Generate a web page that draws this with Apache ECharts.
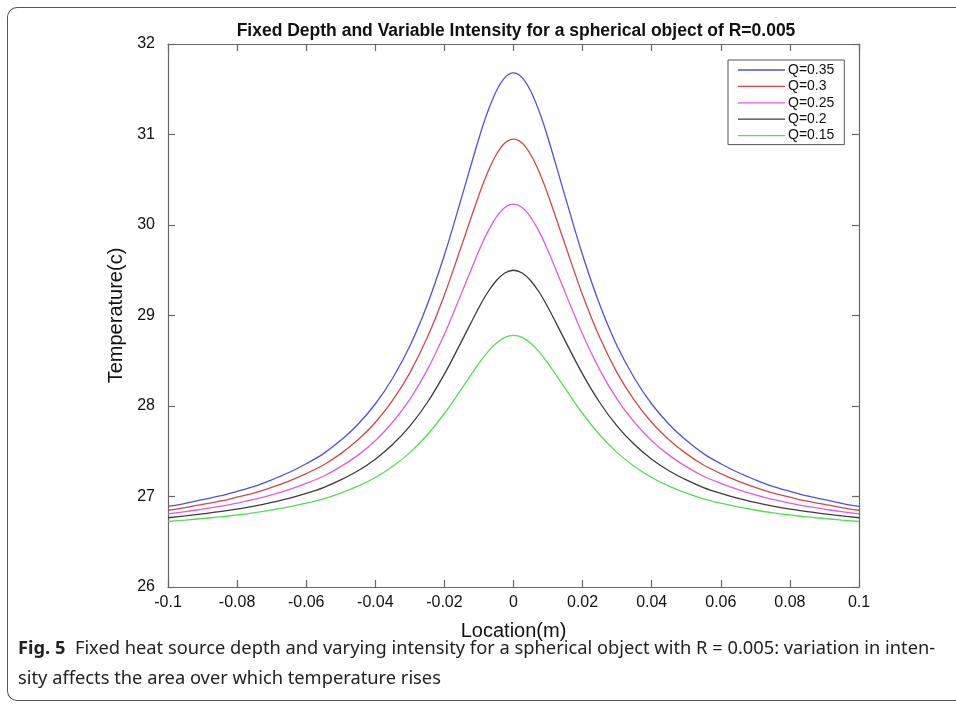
<!DOCTYPE html>
<html>
<head>
<meta charset="utf-8">
<script src="https://cdn.jsdelivr.net/npm/echarts@6/dist/echarts.min.js"></script>
<style>
html,body{margin:0;padding:0;background:#fff;}
#frame{position:absolute;left:7px;top:7px;width:1000px;height:692px;border-left:1.5px solid #555;border-top:1.5px solid #555;border-bottom:1.5px solid #555;border-radius:10px 0 0 10px;}
#chart{position:absolute;left:0;top:0;width:956px;height:705px;}
</style>
</head>
<body>
<div id="frame"></div>
<div id="chart"></div>
<script>
const locations = [-0.1,-0.095,-0.09,-0.085,-0.08,-0.075,-0.07,-0.065,-0.06,-0.055,-0.05,-0.045,-0.04,-0.035,-0.03,-0.025,-0.02,-0.015,-0.01,-0.0075,-0.005,-0.0025,0,0.0025,0.005,0.0075,0.01,0.015,0.02,0.025,0.03,0.035,0.04,0.045,0.05,0.055,0.06,0.065,0.07,0.075,0.08,0.085,0.09,0.095,0.1];
const seriesNames = ['Q=0.35','Q=0.3','Q=0.25','Q=0.2','Q=0.15'];
const q035 = [26.890,26.925,26.966,27.006,27.057,27.113,27.184,27.265,27.362,27.474,27.621,27.799,28.022,28.307,28.662,29.115,29.668,30.308,30.959,31.248,31.477,31.628,31.680,31.628,31.477,31.248,30.959,30.308,29.668,29.115,28.662,28.307,28.022,27.799,27.621,27.474,27.362,27.265,27.184,27.113,27.057,27.006,26.966,26.925,26.890];
const q030 = [26.848,26.878,26.913,26.948,26.992,27.039,27.100,27.170,27.253,27.348,27.474,27.627,27.818,28.062,28.366,28.753,29.227,29.776,30.332,30.580,30.776,30.906,30.950,30.906,30.776,30.580,30.332,29.776,29.227,28.753,28.366,28.062,27.818,27.627,27.474,27.348,27.253,27.170,27.100,27.039,26.992,26.948,26.913,26.878,26.848];
const q025 = [26.807,26.832,26.861,26.890,26.927,26.967,27.017,27.076,27.145,27.224,27.330,27.457,27.616,27.820,28.074,28.397,28.793,29.250,29.715,29.921,30.085,30.193,30.230,30.193,30.085,29.921,29.715,29.250,28.793,28.397,28.074,27.820,27.616,27.457,27.330,27.224,27.145,27.076,27.017,26.967,26.927,26.890,26.861,26.832,26.807];
const q020 = [26.765,26.786,26.809,26.832,26.861,26.893,26.934,26.980,27.035,27.099,27.183,27.284,27.412,27.574,27.777,28.036,28.352,28.717,29.088,29.254,29.384,29.470,29.500,29.470,29.384,29.254,29.088,28.717,28.352,28.036,27.777,27.574,27.412,27.284,27.183,27.099,27.035,26.980,26.934,26.893,26.861,26.832,26.809,26.786,26.765];
const q015 = [26.724,26.740,26.757,26.774,26.796,26.820,26.851,26.886,26.927,26.975,27.038,27.114,27.210,27.332,27.485,27.679,27.917,28.191,28.470,28.595,28.693,28.758,28.780,28.758,28.693,28.595,28.470,28.191,27.917,27.679,27.485,27.332,27.210,27.114,27.038,26.975,26.927,26.886,26.851,26.820,26.796,26.774,26.757,26.740,26.724];
const allValues = [q035,q030,q025,q020,q015];
const colors = ['#5252d2','#cc4a4a','#dd5ddd','#3c3c3c','#55dd55'];
const xTicks = {min:-0.1,max:0.1,interval:0.02};
const yTicks = {min:26,max:32,interval:1};

const chart = echarts.init(document.getElementById('chart'));
const font = 'Liberation Sans, Arial, sans-serif';
const axisCommon = {
  axisLine:{show:true,onZero:false,lineStyle:{color:'#666',width:1.2}},
  axisTick:{show:true,inside:true,length:7,lineStyle:{color:'#666',width:1.2}},
  splitLine:{show:false}
};
const fmtX = v => String(parseFloat(v.toFixed(2)));
chart.setOption({
  animation:false,
  backgroundColor:'transparent',
  title:{
    text:'Fixed Depth and Variable Intensity for a spherical object of R=0.005',
    left:511, top:17, textAlign:'center',
    textStyle:{fontFamily:font,fontSize:17.5,fontWeight:'bold',color:'#111'}
  },
  grid:{left:168,right:97,top:44,bottom:118,containLabel:false},
  legend:{
    data:seriesNames,
    orient:'vertical',
    left:728, top:60,
    padding:[3,10,2,10],
    itemGap:2.4,
    itemWidth:47, itemHeight:1.3,
    icon:'rect',
    borderColor:'#555', borderWidth:1,
    backgroundColor:'#fff',
    textStyle:{fontFamily:font,fontSize:14,color:'#111',padding:[0,0,0,-2]}
  },
  xAxis:[
    Object.assign({type:'value',position:'bottom',min:xTicks.min,max:xTicks.max,interval:xTicks.interval,
      name:'Location(m)',nameLocation:'middle',nameGap:34,
      nameTextStyle:{fontFamily:font,fontSize:20,color:'#111'},
      axisLabel:{fontFamily:font,fontSize:16,color:'#111',margin:8,formatter:fmtX}},axisCommon),
    Object.assign({type:'value',position:'top',min:xTicks.min,max:xTicks.max,interval:xTicks.interval,
      axisLabel:{show:false}},axisCommon)
  ],
  yAxis:[
    Object.assign({type:'value',position:'left',min:yTicks.min,max:yTicks.max,interval:yTicks.interval,
      name:'Temperature(c)',nameLocation:'middle',nameGap:28,nameRotate:90,
      nameTextStyle:{fontFamily:font,fontSize:20,color:'#111'},
      axisLabel:{fontFamily:font,fontSize:16,color:'#111',margin:13}},axisCommon),
    Object.assign({type:'value',position:'right',min:yTicks.min,max:yTicks.max,interval:yTicks.interval,
      axisLabel:{show:false}},axisCommon)
  ],
  series: seriesNames.map((n,i)=>({
    name:n, type:'line', xAxisIndex:0, yAxisIndex:0,
    data: locations.map((x,j)=>[x,allValues[i][j]]),
    smooth:0.35, showSymbol:false, symbol:'none',
    lineStyle:{color:colors[i],width:1.3},
    itemStyle:{color:colors[i]}
  })),
  graphic:[
    {type:'text',left:18,top:640,style:{
      text:'{b|Fig. 5}  Fixed heat source depth and varying intensity for a spherical object with R = 0.005: variation in inten-',
      fontFamily:'Noto Sans',fontSize:18.3,fill:'#222',
      rich:{b:{fontFamily:'Noto Sans',fontSize:18.3,fontWeight:'bold',fill:'#222'}}
    }},
    {type:'text',left:18,top:670,style:{
      text:'sity affects the area over which temperature rises',
      fontFamily:'Noto Sans',fontSize:18.3,fill:'#222'
    }}
  ]
});
</script>
</body>
</html>
